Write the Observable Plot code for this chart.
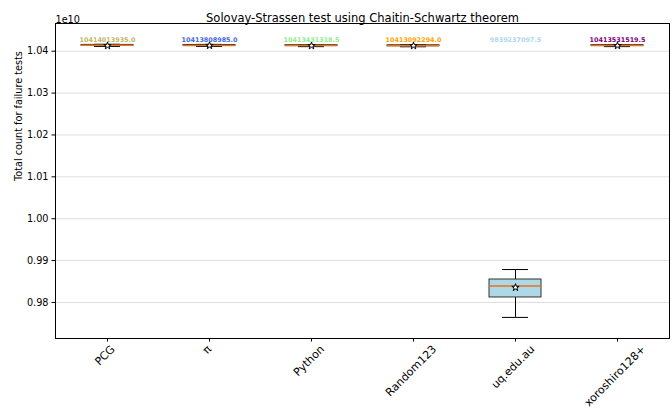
<!DOCTYPE html>
<html><head><meta charset="utf-8">
<script src="https://cdn.jsdelivr.net/npm/d3@7"></script>
<script src="https://cdn.jsdelivr.net/npm/@observablehq/plot@0.6"></script>
<style>body{margin:0;background:#fff;font-family:"DejaVu Sans",sans-serif}</style>
</head><body><div id="chart"></div>
<script>
const categories = ["PCG", "π", "Python", "Random123", "uq.edu.au", "xoroshiro128+"];
const medians = [10414013935.0, 10413808985.0, 10413431318.5, 10413092294.0, 9839237097.5, 10413531519.5];
const q1s = [10412900000, 10412700000, 10412300000, 10412000000, 9811900000, 10412400000];
const q3s = [10415100000, 10414900000, 10414500000, 10414200000, 9854800000, 10414600000];
const whiskerLows = [10411500000, 10411300000, 10410900000, 10410600000, 9764300000, 10411000000];
const whiskerHighs = [10416500000, 10416300000, 10415900000, 10415600000, 9878600000, 10416000000];
const means = [10413000000, 10413500000, 10413000000, 10413000000, 9835700000, 10413200000];
const colors = ["#bdb76b", "#4169e1", "#90ee90", "#ffa500", "#add8e6", "#800080"];
const yTicks = [0.98e10, 0.99e10, 1.00e10, 1.01e10, 1.02e10, 1.03e10, 1.04e10];
const title = "Solovay-Strassen test using Chaitin-Schwartz theorem";
const yLabel = "Total count for failure tests";

const rows = categories.map((c, i) => ({
  cat: c, med: medians[i], q1: q1s[i], q3: q3s[i],
  lo: whiskerLows[i], hi: whiskerHighs[i], mean: means[i], color: colors[i]
}));

const xFont = 11;
const ctx = document.createElement("canvas").getContext("2d");
ctx.font = xFont + "px 'DejaVu Sans'";
const xLabelMarks = categories.map(c => {
  const w = ctx.measureText(c).width || c.length * xFont * 0.6;
  return Plot.text([c], {
    x: d => d, frameAnchor: "bottom", textAnchor: "middle", rotate: -45,
    dy: 7.5 + (w + xFont) * 0.3535, fontSize: xFont, fill: "#000"
  });
});

const chart = Plot.plot({
  width: 672, height: 419,
  marginLeft: 55, marginRight: 3, marginTop: 23, marginBottom: 81,
  style: {fontFamily: "'DejaVu Sans', sans-serif", background: "#fff", color: "#000"},
  x: {type: "band", domain: categories, padding: 0, axis: null},
  y: {domain: [0.97139e10, 1.04662e10], axis: null},
  color: {type: "identity"},
  marks: [
    Plot.gridY(yTicks, {stroke: "#dedede", strokeOpacity: 1, strokeWidth: 1}),
    Plot.axisY(yTicks, {tickFormat: d => (d / 1e10).toFixed(2), tickSize: 3.5, tickPadding: 3.5, fontSize: 9.7, label: null}),
    Plot.axisX({tickSize: 3.5, tickFormat: () => "", label: null}),
    Plot.ruleX(rows, {x: "cat", y1: "lo", y2: "q1", stroke: "#000", strokeWidth: 1}),
    Plot.ruleX(rows, {x: "cat", y1: "q3", y2: "hi", stroke: "#000", strokeWidth: 1}),
    Plot.tickY(rows, {x: "cat", y: "lo", stroke: "#000", insetLeft: 38, insetRight: 38}),
    Plot.tickY(rows, {x: "cat", y: "hi", stroke: "#000", insetLeft: 38, insetRight: 38}),
    Plot.rectY(rows, {x: "cat", y1: "q1", y2: "q3", fill: "color", stroke: "#333", strokeWidth: 1, insetLeft: 25, insetRight: 25}),
    Plot.tickY(rows, {x: "cat", y: "med", stroke: "#e8731a", strokeWidth: 1.5, insetLeft: 25, insetRight: 25}),
    Plot.dot(rows, {x: "cat", y: "mean", symbol: "star", r: 2.3, fill: "white", stroke: "#000", strokeWidth: 1}),
    Plot.text(rows, {x: "cat", frameAnchor: "top", dy: 14, text: d => d.med.toFixed(1), fill: "color", fontSize: 6.4, fontWeight: "bold"}),
    Plot.frame({stroke: "#000", strokeWidth: 1}),
    Plot.text([title], {frameAnchor: "top", dy: -10, fontSize: 11.5, fill: "#000"}),
    Plot.text(["1e10"], {frameAnchor: "top-left", dy: -7, textAnchor: "start", fontSize: 9.7, fill: "#000"}),
    Plot.text([yLabel], {frameAnchor: "left", dx: -37, rotate: -90, fontSize: 9.7, fill: "#000"}),
    ...xLabelMarks
  ]
});
document.getElementById("chart").appendChild(chart);
</script>
</body></html>
